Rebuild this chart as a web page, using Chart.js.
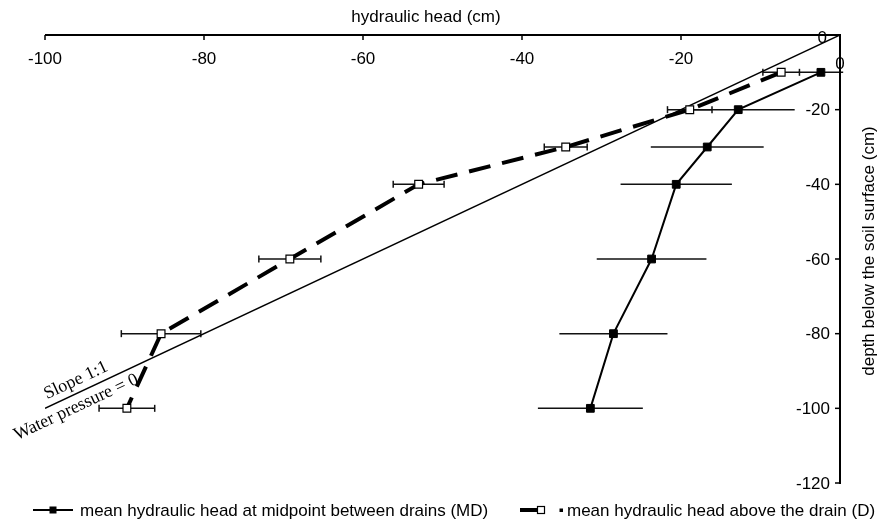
<!DOCTYPE html>
<html>
<head>
<meta charset="utf-8">
<script src="https://cdn.jsdelivr.net/npm/chart.js@4"></script>
<style>
  html, body { margin: 0; padding: 0; background: #fff; }
  #wrap { width: 878px; height: 519px; }
</style>
</head>
<body>
<div id="wrap"><canvas id="chartHead"></canvas></div>
<script>
// depths (cm, negative = below surface)
const depths = [-10, -20, -30, -40, -60, -80, -100];
// midpoint between drains (MD)
const headMD = [-2.4, -12.8, -16.7, -20.6, -23.7, -28.5, -31.4];
const errMD = [2.8, 7.1, 7.1, 7.0, 6.9, 6.8, 6.6];
// above the drain (D)
const headD = [-7.4, -18.9, -34.5, -53.0, -69.2, -85.4, -89.7];
const errD = [2.3, 2.8, 2.7, 3.2, 3.9, 5.0, 3.5];
// water pressure = 0 line
const slopeLine = [0, -100];

const xTicks = [-100, -80, -60, -40, -20, 0];
const yTicks = [0, -20, -40, -60, -80, -100, -120];

const xTitle = "hydraulic head (cm)";
const yTitle = "depth below the soil surface (cm)";
const legendMD = "mean hydraulic head at midpoint between drains (MD)";
const legendD = "mean hydraulic head above the drain (D)";
const slopeText = "Slope 1:1";
const pressureText = "Water pressure = 0";

const SANS = '17px "Liberation Sans", Arial, sans-serif';
const SERIF = '18px "Liberation Serif", "Times New Roman", serif';

function hLine(ctx, x1, x2, y) {
    ctx.beginPath(); ctx.moveTo(x1, y); ctx.lineTo(x2, y); ctx.stroke();
}
function vLine(ctx, x, y1, y2) {
    ctx.beginPath(); ctx.moveTo(x, y1); ctx.lineTo(x, y2); ctx.stroke();
}

const excelLook = {
    id: 'excelLook',
    beforeDatasetsDraw(chart) {
        const { ctx, scales: { x, y } } = chart;
        ctx.save();
        ctx.strokeStyle = '#111';
        ctx.lineWidth = 1.5;
        // MD error bars, no caps
        depths.forEach((d, i) => {
            const py = y.getPixelForValue(d);
            hLine(ctx, x.getPixelForValue(headMD[i] - errMD[i]), x.getPixelForValue(headMD[i] + errMD[i]), py);
        });
        // D error bars with caps
        depths.forEach((d, i) => {
            const py = y.getPixelForValue(d);
            const l = x.getPixelForValue(headD[i] - errD[i]);
            const r = x.getPixelForValue(headD[i] + errD[i]);
            hLine(ctx, l, r, py);
            vLine(ctx, l, py - 3.5, py + 3.5);
            vLine(ctx, r, py - 3.5, py + 3.5);
        });
        ctx.restore();
    },
    afterDraw(chart) {
        const { ctx, chartArea: a, scales: { x, y } } = chart;
        ctx.save();
        ctx.strokeStyle = '#000';
        ctx.fillStyle = '#000';

        // axes
        ctx.lineWidth = 2;
        hLine(ctx, a.left, a.right + 1, a.top);
        vLine(ctx, a.right, a.top - 1, a.bottom + 1);
        ctx.lineWidth = 1.5;
        xTicks.forEach(v => vLine(ctx, x.getPixelForValue(v), a.top, a.top + 5));
        yTicks.forEach(v => hLine(ctx, a.right - 5, a.right, y.getPixelForValue(v)));

        // tick labels
        ctx.font = SANS;
        ctx.textAlign = 'center';
        ctx.textBaseline = 'alphabetic';
        xTicks.forEach(v => ctx.fillText(String(v), x.getPixelForValue(v), a.top + (v === 0 ? 34 : 29)));
        ctx.textAlign = 'right';
        ctx.textBaseline = 'middle';
        yTicks.forEach(v => ctx.fillText(String(v), a.right - (v === 0 ? 13 : 10), y.getPixelForValue(v) + (v === 0 ? 3 : 1)));

        // axis titles
        ctx.textAlign = 'center';
        ctx.textBaseline = 'alphabetic';
        ctx.fillText(xTitle, 426, 22);
        ctx.save();
        ctx.translate(874, 251);
        ctx.rotate(-Math.PI / 2);
        ctx.fillText(yTitle, 0, 0);
        ctx.restore();

        // slope labels along the 1:1 line
        const p0x = x.getPixelForValue(slopeLine[1]);
        const p0y = y.getPixelForValue(slopeLine[1]);
        const p1x = x.getPixelForValue(slopeLine[0]);
        const p1y = y.getPixelForValue(slopeLine[0]);
        const ang = Math.atan2(p1y - p0y, p1x - p0x);
        ctx.font = SERIF;
        ctx.textAlign = 'left';
        ctx.save();
        ctx.translate(p0x + 2, p0y - 9);
        ctx.rotate(ang);
        ctx.fillText(slopeText, 0, 0);
        ctx.restore();
        ctx.save();
        ctx.translate(p0x - 28, p0y + 32);
        ctx.rotate(ang);
        ctx.fillText(pressureText, 0, 0);
        ctx.restore();

        // legend
        const ly = 510;
        ctx.lineWidth = 2;
        hLine(ctx, 33, 73, ly);
        ctx.fillRect(49.5, ly - 3.5, 7, 7);
        ctx.lineWidth = 4;
        hLine(ctx, 520, 537, ly);
        ctx.fillStyle = '#fff';
        ctx.lineWidth = 1.2;
        ctx.fillRect(537.5, ly - 3.5, 7, 7);
        ctx.strokeRect(537.5, ly - 3.5, 7, 7);
        ctx.fillStyle = '#000';
        ctx.fillRect(559.5, ly - 1.5, 3.5, 3.5);
        ctx.font = SANS;
        ctx.textBaseline = 'alphabetic';
        ctx.fillText(legendMD, 80, 516);
        ctx.fillText(legendD, 567, 516);

        ctx.restore();
    }
};

const ctx = document.getElementById("chartHead").getContext('2d');

new Chart(ctx, {
    type: 'scatter',
    data: {
        datasets: [
            {
                label: legendMD,
                data: depths.map((d, i) => ({ x: headMD[i], y: d })),
                showLine: true,
                borderColor: '#000',
                borderWidth: 2,
                pointStyle: 'rect',
                pointRadius: 5.5,
                pointBorderWidth: 1,
                pointBackgroundColor: '#000',
                pointBorderColor: '#000'
            },
            {
                label: legendD,
                data: depths.map((d, i) => ({ x: headD[i], y: d })),
                showLine: true,
                borderColor: '#000',
                borderWidth: 4,
                borderDash: [22, 12],
                pointStyle: 'rect',
                pointRadius: 5.5,
                pointBorderWidth: 1.2,
                pointBackgroundColor: '#fff',
                pointBorderColor: '#000'
            },
            {
                label: 'slope',
                data: slopeLine.map(v => ({ x: v, y: v })),
                showLine: true,
                borderColor: '#000',
                borderWidth: 1.5,
                pointRadius: 0
            }
        ]
    },
    options: {
        animation: false,
        responsive: true,
        maintainAspectRatio: false,
        layout: { padding: { left: 45, right: 38, top: 35, bottom: 36 } },
        scales: {
            x: { type: 'linear', min: -100, max: 0, display: false },
            y: { type: 'linear', min: -120, max: 0, display: false }
        },
        plugins: {
            legend: { display: false },
            tooltip: { enabled: false }
        }
    },
    plugins: [excelLook]
});
</script>
</body>
</html>
